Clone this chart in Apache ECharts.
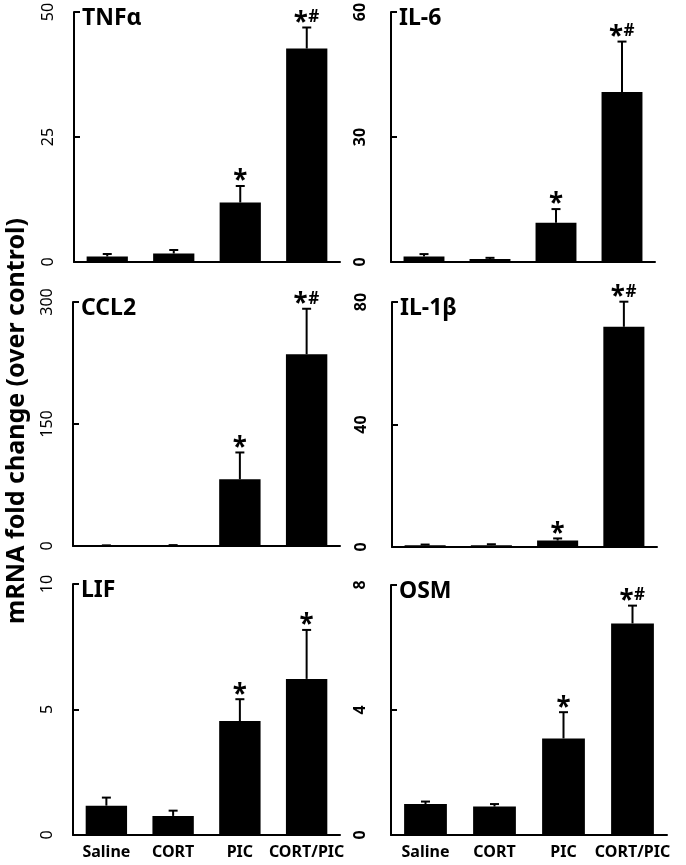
<!DOCTYPE html>
<html>
<head>
<meta charset="utf-8">
<script src="https://cdn.jsdelivr.net/npm/echarts@6/dist/echarts.min.js"></script>
<style>
  html, body { margin: 0; padding: 0; background: #fff; }
  #main { width: 686px; height: 865px; }
</style>
</head>
<body>
<div id="main"></div>
<script>
var categories = ['Saline', 'CORT', 'PIC', 'CORT/PIC'];

// mean and upper SEM for each gene
var tnfMean = [1.1, 1.7, 11.9, 42.7];
var tnfErr = [0.5, 0.7, 3.3, 4.2];
var il6Mean = [1.3, 0.7, 9.4, 40.8];
var il6Err = [0.6, 0.3, 3.3, 12.1];
var ccl2Mean = [0.5, 0.8, 82, 235.7];
var ccl2Err = [0.3, 0.3, 33, 56];
var il1bMean = [0.6, 0.6, 2.1, 71.9];
var il1bErr = [0.2, 0.3, 0.7, 8.2];
var lifMean = [1.17, 0.76, 4.54, 6.22];
var lifErr = [0.32, 0.21, 0.87, 1.95];
var osmMean = [0.99, 0.91, 3.09, 6.77];
var osmErr = [0.08, 0.08, 0.84, 0.57];

// significance marks
var marksStarHash = ['', '', '*', '*#'];
var marksStar = ['', '', '*', '*'];

// y axis ticks [max, interval]
var tnfTicks = [50, 25];
var il6Ticks = [60, 30];
var ccl2Ticks = [300, 150];
var il1bTicks = [80, 40];
var lifTicks = [10, 5];
var osmTicks = [8, 4];

var FONT = '"Noto Sans", "DejaVu Sans", sans-serif';

var panels = [
  { name: 'TNFα', mean: tnfMean, err: tnfErr, marks: marksStarHash, ticks: tnfTicks, box: [74, 12, 266, 250], right: false, bottom: false },
  { name: 'IL-6', mean: il6Mean, err: il6Err, marks: marksStarHash, ticks: il6Ticks, box: [391, 12, 264, 250], right: true, bottom: false },
  { name: 'CCL2', mean: ccl2Mean, err: ccl2Err, marks: marksStarHash, ticks: ccl2Ticks, box: [73, 302, 267, 244], right: false, bottom: false },
  { name: 'IL-1β', mean: il1bMean, err: il1bErr, marks: marksStarHash, ticks: il1bTicks, box: [392, 302, 265, 245], right: true, bottom: false },
  { name: 'LIF', mean: lifMean, err: lifErr, marks: marksStar, ticks: lifTicks, box: [73, 584, 267, 251], right: false, bottom: true },
  { name: 'OSM', mean: osmMean, err: osmErr, marks: marksStarHash, ticks: osmTicks, box: [391, 585, 276, 250], right: true, bottom: true }
];

var grid = [], xAxis = [], yAxis = [], series = [], graphic = [];

panels.forEach(function (p, i) {
  var b = p.box;
  grid.push({ left: b[0], top: b[1], width: b[2], height: b[3], outerBoundsMode: 'none' });
  xAxis.push({
    type: 'category', gridIndex: i, data: categories,
    axisLine: { lineStyle: { color: '#000', width: 2 } },
    axisTick: { show: false },
    axisLabel: {
      show: p.bottom, interval: 0, margin: 9,
      color: '#000', fontFamily: FONT, fontWeight: 'bold', fontSize: 16
    }
  });
  yAxis.push({
    type: 'value', gridIndex: i, min: 0, max: p.ticks[0], interval: p.ticks[1],
    splitLine: { show: false },
    axisLine: { show: true, lineStyle: { color: '#000', width: 2 } },
    axisTick: { show: true, inside: true, length: 6, lineStyle: { color: '#000', width: 2 } },
    axisLabel: {
      rotate: 90, margin: p.right ? 23 : 18,
      color: '#000', fontFamily: FONT, fontSize: 16,
      fontWeight: p.right ? 'bold' : 'normal'
    }
  });
  series.push({
    type: 'bar', xAxisIndex: i, yAxisIndex: i,
    barWidth: '62%', data: p.mean,
    itemStyle: { color: '#000' }, silent: true
  });
  var errData = p.mean.map(function (m, k) { return [k, m, p.err[k]]; });
  series.push({
    type: 'custom', xAxisIndex: i, yAxisIndex: i, data: errData, z: 3,
    renderItem: function (params, api) {
      var k = api.value(0), m = api.value(1), e = api.value(2);
      var base = api.coord([k, m]);
      var top = api.coord([k, m + e]);
      var children = [
        { type: 'line', shape: { x1: base[0], y1: base[1], x2: top[0], y2: top[1] }, style: { stroke: '#000', lineWidth: 2 } },
        { type: 'line', shape: { x1: top[0] - 4.5, y1: top[1], x2: top[0] + 4.5, y2: top[1] }, style: { stroke: '#000', lineWidth: 2 } }
      ];
      var mk = p.marks[params.dataIndex];
      if (mk) {
        var hasHash = mk === '*#';
        children.push({
          type: 'text', x: top[0] + (hasHash ? -6 : 0), y: top[1] - 4,
          style: { text: '*', align: 'center', verticalAlign: 'middle', fontFamily: FONT, fontWeight: 'bold', fontSize: 26, fill: '#000' }
        });
        if (hasHash) {
          children.push({
            type: 'text', x: top[0] + 7, y: top[1] - 10,
            style: { text: '#', align: 'center', verticalAlign: 'middle', fontFamily: FONT, fontWeight: 'bold', fontSize: 17, fill: '#000' }
          });
        }
      }
      return { type: 'group', children: children };
    }
  });
  graphic.push({
    type: 'text', left: b[0] + 8, top: b[1] - 5,
    style: { text: p.name, fontFamily: FONT, fontWeight: 'bold', fontSize: 23, fill: '#000' }
  });
});

graphic.push({
  type: 'text', x: 17, y: 421, rotation: Math.PI / 2,
  style: {
    text: 'mRNA fold change (over control)', fontFamily: FONT, fontWeight: 'bold',
    fontSize: 25, fill: '#000', align: 'center', verticalAlign: 'middle'
  }
});

var myChart = echarts.init(document.getElementById('main'), null, { renderer: 'canvas' });
myChart.setOption({
  animation: false,
  backgroundColor: '#fff',
  grid: grid,
  xAxis: xAxis,
  yAxis: yAxis,
  series: series,
  graphic: graphic
});
</script>
</body>
</html>
